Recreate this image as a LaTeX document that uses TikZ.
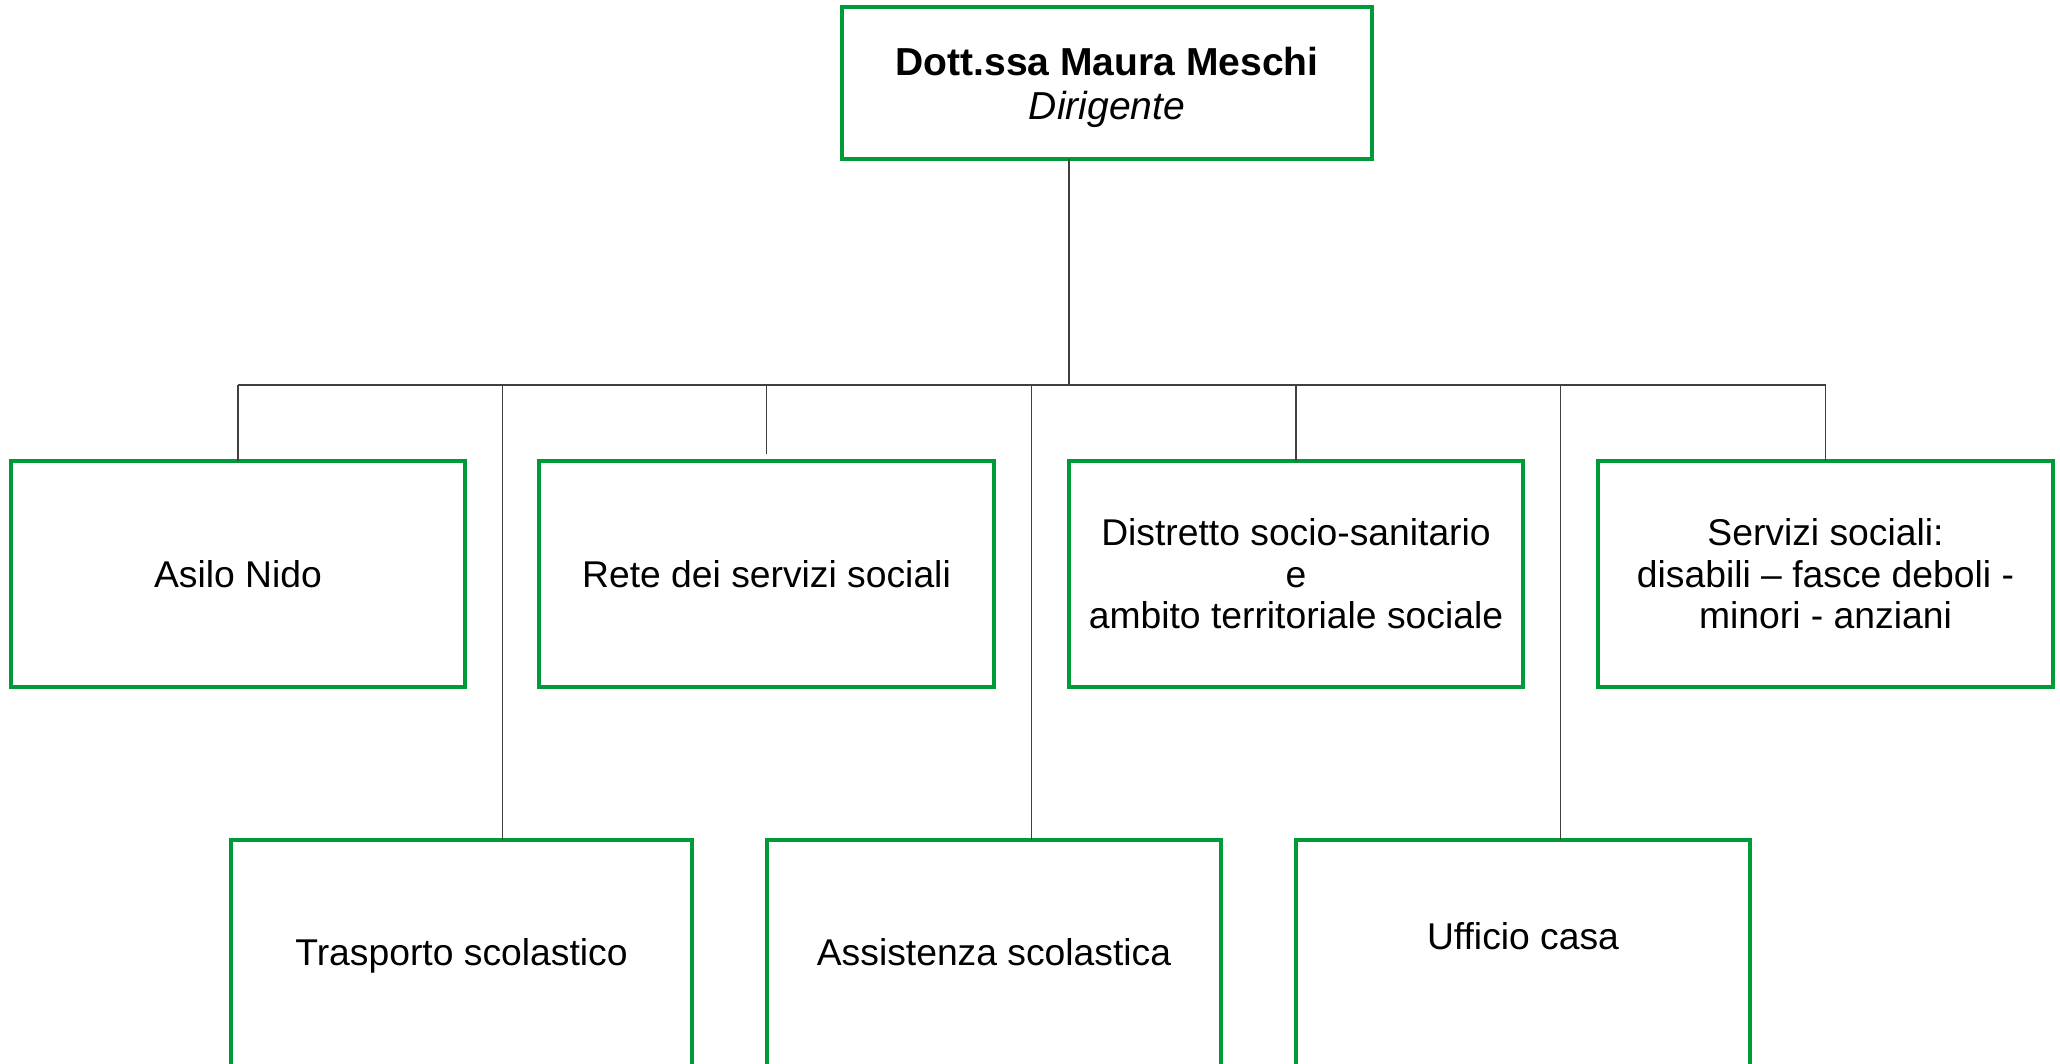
\documentclass[tikz,border=0pt]{standalone}
\usepackage{fontspec}
\setmainfont{Liberation Sans}
\usetikzlibrary{calc}
\definecolor{verdebox}{RGB}{0,154,58}
\tikzset{>=stealth,
  settore/.style={draw=verdebox, line width=1.15pt, inner sep=0pt, outer sep=0pt,
    minimum width=4.54cm, minimum height=2.26cm, align=center,
    font=\fontsize{10.6}{11.8}\selectfont},
  settorebasso/.style={settore, minimum height=2.32cm, anchor=north, text depth=0.08cm},
  capo/.style={settore, minimum width=5.30cm, minimum height=1.52cm, text depth=0pt,
    font=\fontsize{11.1}{12.5}\selectfont},
  filo/.style={draw=black!75, line width=0.4pt}}

\begin{document}
\begin{tikzpicture}[x=0.01cm, y=-0.01cm]
    \useasboundingbox (0,0) rectangle (2060,1064);
    \clip (0,0) rectangle (2060,1064);
    \node[capo] (dir) at (1107,83) {\textbf{Dott.ssa Maura Meschi}\\\textit{Dirigente}};
    \node[settore] (asilo) at (238,574) {Asilo Nido};
    \node[settore] (rete) at (766.5,574) {Rete dei servizi sociali};
    \node[settore] (dist) at (1296,574) {Distretto socio-sanitario\\e\\ambito territoriale sociale};
    \node[settore] (serv) at (1825.5,574) {Servizi sociali:\\disabili – fasce deboli -\\minori - anziani};
    \node[settorebasso, minimum width=4.60cm] (trasp) at (461.5,840) {Trasporto scolastico};
    \node[settorebasso] (assist) at (994,840) {Assistenza scolastica};
    \node[settorebasso, text depth=0.41cm] (uff) at (1523,840) {Ufficio casa};
    \coordinate (bus) at (0,385);
    \coordinate (gapA) at ($(asilo.east)!0.5!(rete.west)$);
    \coordinate (gapB) at ($(rete.east)!0.5!(dist.west)$);
    \coordinate (gapC) at ($(dist.east)!0.5!(serv.west)$);
    \draw[filo] (dir.south -| dist.north west) -- (bus -| dist.north west);
    \draw[filo] (bus -| asilo.north) -- (bus -| serv.north);
    \draw[filo] (bus -| asilo.north) -- (asilo.north);
    \draw[filo] (bus -| rete.north) -- ($(rete.north)+(0,-7)$);
    \draw[filo] (bus -| dist.north) -- (dist.north);
    \draw[filo] (bus -| serv.north) -- (serv.north);
    \draw[filo] (bus -| gapA) -- (trasp.north -| gapA);
    \draw[filo] (bus -| gapB) -- (assist.north -| gapB);
    \draw[filo] (bus -| gapC) -- (uff.north -| gapC);
\end{tikzpicture}
\end{document}
